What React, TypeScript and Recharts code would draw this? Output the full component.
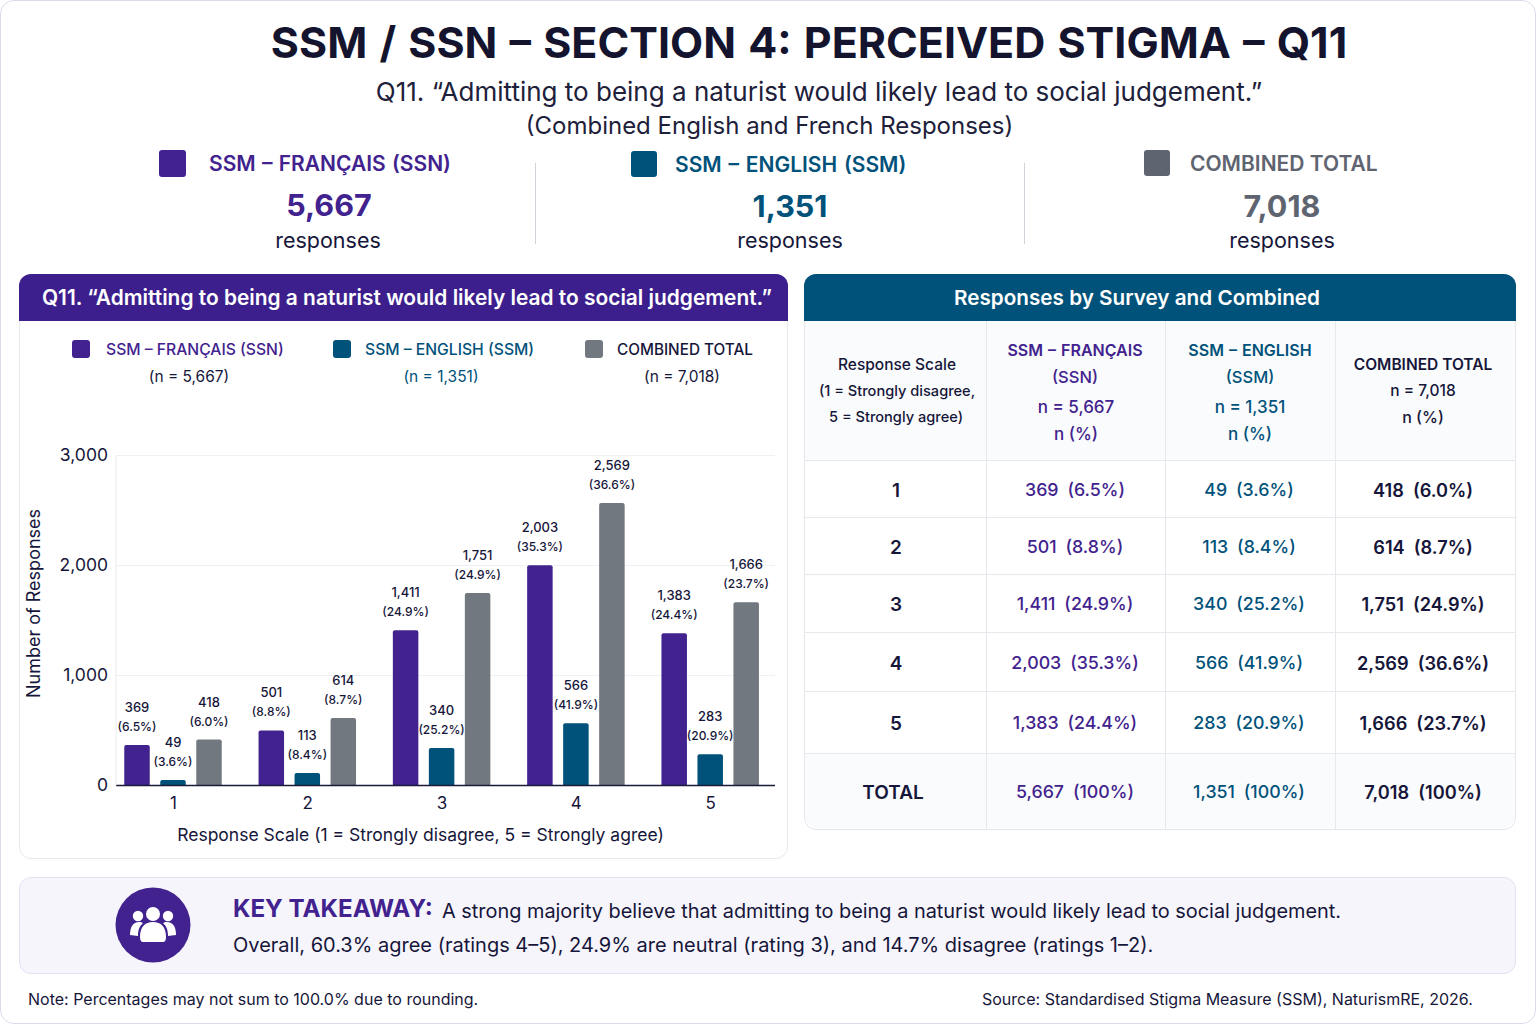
import React from "react";
import { BarChart, Bar, XAxis, YAxis, CartesianGrid, LabelList } from "recharts";

const scale = ["1", "2", "3", "4", "5"];
const francais = [369, 501, 1411, 2003, 1383];
const english = [49, 113, 340, 566, 283];
const combined = [418, 614, 1751, 2569, 1666];
const francaisPct = ["6.5", "8.8", "24.9", "35.3", "24.4"];
const englishPct = ["3.6", "8.4", "25.2", "41.9", "20.9"];
const combinedPct = ["6.0", "8.7", "24.9", "36.6", "23.7"];
const yTicks = [0, 1000, 2000, 3000];

const PURPLE = "#41228e";
const TEAL = "#01527a";
const GREY = "#72787f";
const INK = "#16163a";

const data = scale.map((s, i) => ({
  scale: s,
  francais: francais[i],
  english: english[i],
  combined: combined[i],
}));

const fmt = (n: number) => n.toLocaleString("en-US");

function T({ x, y, size, weight = 400, color = INK, align = "center", ws = 0, children }: any) {
  const tx = align === "center" ? "-50%" : "0";
  return (
    <div
      style={{
        position: "absolute",
        left: x,
        top: y,
        fontSize: size,
        fontWeight: weight,
        color,
        wordSpacing: ws,
        whiteSpace: "nowrap",
        lineHeight: 1,
        transform: `translate(${tx}, -50%)`,
      }}
    >
      {children}
    </div>
  );
}

function Sq({ x, y, s, color }: any) {
  return <div style={{ position: "absolute", left: x, top: y, width: s, height: s, background: color, borderRadius: 3 }} />;
}

function barLabel(pcts: string[], values: number[]) {
  return (props: any) => {
    const { x, y, width, index } = props;
    const cx = x + width / 2;
    return (
      <g textAnchor="middle" fill={INK}>
        <text x={cx} y={y - 33} fontSize={13} fontWeight={500}>{fmt(values[index])}</text>
        <text x={cx} y={y - 14} fontSize={12} fontWeight={500}>({pcts[index]}%)</text>
      </g>
    );
  };
}

const colX = [805, 986, 1165, 1335, 1515];
const rowY = [460, 517, 574, 632, 691, 753, 829];
const rowLabels = [...scale, "TOTAL"];

function cell(value: number, pct: string) {
  return `${fmt(value)}\u2002(${pct}%)`;
}

function TablePanel() {
  const totals = [5667, 1351, 7018];
  return (
    <>
      <div style={{ position: "absolute", left: 804, top: 274, width: 712, height: 556, boxSizing: "border-box", border: "1px solid #e4e6ec", borderRadius: 12, background: "#fff" }} />
      <div style={{ position: "absolute", left: 805, top: 321, width: 710, height: 139, background: "#fafbfc" }} />
      <div style={{ position: "absolute", left: 805, top: 753, width: 710, height: 75, background: "#fafbfc", borderRadius: "0 0 12px 12px" }} />
      <div style={{ position: "absolute", left: 804, top: 274, width: 712, height: 47, background: TEAL, borderRadius: "12px 12px 0 0" }} />
      <T x={1137} y={298} size={20.7} weight={600} color="#fff">Responses by Survey and Combined</T>
      {colX.slice(1, 4).map((x) => (
        <div key={x} style={{ position: "absolute", left: x, top: 321, width: 1, height: 508, background: "#e6e8ed" }} />
      ))}
      {rowY.slice(0, 6).map((y) => (
        <div key={y} style={{ position: "absolute", left: 805, top: y, width: 710, height: 1, background: "#e6e8ed" }} />
      ))}
      <T x={897} y={365} size={15.5} weight={500}>Response Scale</T>
      <T x={897} y={391} size={14.6} weight={500}>(1 = Strongly disagree,</T>
      <T x={896} y={417} size={14.6} weight={500}>5 = Strongly agree)</T>
      <T x={1075} y={350} size={16} weight={600} color={PURPLE} ws={1}>SSM – FRANÇAIS</T>
      <T x={1075} y={377} size={16.5} weight={500} color={PURPLE}>(SSN)</T>
      <T x={1076} y={407} size={17} weight={500} color={PURPLE}>n = 5,667</T>
      <T x={1076} y={434} size={17} weight={500} color={PURPLE}>n (%)</T>
      <T x={1250} y={350} size={16} weight={600} color={TEAL} ws={1}>SSM – ENGLISH</T>
      <T x={1250} y={377} size={16.5} weight={500} color={TEAL}>(SSM)</T>
      <T x={1250} y={407} size={17} weight={500} color={TEAL}>n = 1,351</T>
      <T x={1250} y={434} size={17} weight={500} color={TEAL}>n (%)</T>
      <T x={1423} y={365} size={15.5} weight={600}>COMBINED TOTAL</T>
      <T x={1423} y={391} size={15.5} weight={500}>n = 7,018</T>
      <T x={1423} y={417} size={16} weight={500}>n (%)</T>
      {rowLabels.map((label, i) => {
        const y = (rowY[i] + rowY[i + 1]) / 2 + 1;
        const isTotal = i === 5;
        return (
          <React.Fragment key={label}>
            <T x={isTotal ? 893 : 896} y={y} size={19} weight={600}>{label}</T>
            <T x={1075} y={y} size={17.8} weight={500} color={PURPLE}>
              {isTotal ? `${fmt(totals[0])}\u2002(100%)` : cell(francais[i], francaisPct[i])}
            </T>
            <T x={1249} y={y} size={17.8} weight={500} color={TEAL}>
              {isTotal ? `${fmt(totals[1])}\u2002(100%)` : cell(english[i], englishPct[i])}
            </T>
            <T x={1423} y={y} size={18.2} weight={600}>
              {isTotal ? `${fmt(totals[2])}\u2002(100%)` : cell(combined[i], combinedPct[i])}
            </T>
          </React.Fragment>
        );
      })}
    </>
  );
}

function PeopleIcon() {
  return (
    <svg style={{ position: "absolute", left: 115, top: 887 }} width={76} height={76} viewBox="0 0 76 76">
      <circle cx={38} cy={38} r={37.5} fill={PURPLE} />
      <g fill="#fff">
        <circle cx={23} cy={29} r={5.2} />
        <circle cx={53} cy={29} r={5.2} />
        <path d="M15 48c0-8 3-13 9-13 2 0 3 .5 4 1-3 3-5 6-5 13z" />
        <path d="M61 48c0-8-3-13-9-13-2 0-3 .5-4 1 3 3 5 6 5 13z" />
        <circle cx={38} cy={27} r={7} />
        <path d="M25 50c0-10 5-15 13-15s13 5 13 15c0 3-1 5-3 5H28c-2 0-3-2-3-5z" />
      </g>
    </svg>
  );
}

export default function App() {
  return (
    <div
      style={{
        position: "absolute",
        left: 0,
        top: 0,
        width: 1536,
        height: 1024,
        overflow: "hidden",
        boxSizing: "border-box",
        background: "#fff",
        border: "1px solid #d9dcea",
        borderRadius: 14,
        fontFamily: "Inter, sans-serif",
        color: INK,
      }}
    >
      <div style={{ position: "absolute", left: -1, top: -1 }}>
        <T x={809} y={42} size={43} weight={700} color="#14142e" ws={2}>SSM / SSN – SECTION 4: PERCEIVED STIGMA – Q11</T>
        <T x={819} y={92} size={26} color="#20203a">Q11. “Admitting to being a naturist would likely lead to social judgement.”</T>
        <T x={769.5} y={126} size={24} color="#20203a">(Combined English and French Responses)</T>

        <Sq x={159} y={150} s={27} color={PURPLE} />
        <T x={209} y={163} size={21} weight={600} color={PURPLE} align="left" ws={1}>SSM – FRANÇAIS (SSN)</T>
        <T x={329} y={205} size={30.5} weight={700} color={PURPLE}>5,667</T>
        <T x={328} y={241} size={21.5}>responses</T>
        <div style={{ position: "absolute", left: 535, top: 163, width: 1, height: 81, background: "#cfd2d8" }} />
        <Sq x={631} y={151} s={26} color={TEAL} />
        <T x={675} y={164} size={21} weight={600} color={TEAL} align="left" ws={1.5}>SSM – ENGLISH (SSM)</T>
        <T x={790} y={206} size={30.5} weight={700} color={TEAL}>1,351</T>
        <T x={790} y={241} size={21.5}>responses</T>
        <div style={{ position: "absolute", left: 1024, top: 163, width: 1, height: 81, background: "#cfd2d8" }} />
        <Sq x={1144} y={150} s={26} color="#5f6570" />
        <T x={1190} y={163} size={21} weight={600} color="#5f6570" align="left">COMBINED TOTAL</T>
        <T x={1282} y={206} size={30.5} weight={700} color="#5f6570">7,018</T>
        <T x={1282} y={241} size={21.5}>responses</T>

        {/* chart panel */}
        <div style={{ position: "absolute", left: 19, top: 274, width: 769, height: 585, boxSizing: "border-box", border: "1px solid #e6e8ee", borderRadius: 12, background: "#fff" }} />
        <div style={{ position: "absolute", left: 19, top: 274, width: 769, height: 47, background: "#3c1f8c", borderRadius: "12px 12px 0 0" }} />
        <T x={407} y={298} size={20.9} weight={600} color="#fff">Q11. “Admitting to being a naturist would likely lead to social judgement.”</T>

        <Sq x={72} y={340} s={18} color={PURPLE} />
        <T x={106} y={350} size={15.7} weight={500} color={PURPLE} align="left">SSM – FRANÇAIS (SSN)</T>
        <T x={189} y={377} size={15.5}>(n = 5,667)</T>
        <Sq x={333} y={340} s={18} color={TEAL} />
        <T x={365} y={350} size={15.7} weight={500} color={TEAL} align="left">SSM – ENGLISH (SSM)</T>
        <T x={441} y={377} size={15.5} color={TEAL}>(n = 1,351)</T>
        <Sq x={585} y={340} s={18} color={GREY} />
        <T x={617} y={350} size={15.3} weight={500} align="left">COMBINED TOTAL</T>
        <T x={682} y={377} size={15.5}>(n = 7,018)</T>

        <div style={{ position: "absolute", left: 19, top: 400 }}>
          <BarChart
            width={769}
            height={459}
            data={data}
            margin={{ top: 55.5, right: 13, bottom: 43.5, left: 37 }}
            barSize={25.5}
            barGap={10.5}
          >
            <CartesianGrid vertical={false} stroke="#eef0f3" />
            <XAxis
              dataKey="scale"
              stroke="#1a1a3a"
              strokeWidth={1.5}
              tickLine={false}
              padding={{ left: -9.75, right: -2.75 }}
              tick={{ fill: INK, fontSize: 17 }}
              tickMargin={5}
              label={{ value: "Response Scale (1 = Strongly disagree, 5 = Strongly agree)", position: "insideBottom", offset: -25, dx: -25, fill: INK, fontSize: 17.5 }}
            />
            <YAxis
              width={60}
              domain={[0, 3000]}
              ticks={yTicks}
              tickFormatter={fmt}
              stroke="#e8eaee"
              tickLine={false}
              tick={{ fill: INK, fontSize: 17.5, dy: -1 }}
              tickMargin={2}
              label={{ value: "Number of Responses", angle: -90, position: "insideLeft", offset: -22, dy: -17, fill: INK, fontSize: 18, style: { textAnchor: "middle" } }}
            />
            <Bar dataKey="francais" fill={PURPLE} radius={[2, 2, 0, 0]} isAnimationActive={false}>
              <LabelList content={barLabel(francaisPct, francais)} />
            </Bar>
            <Bar dataKey="english" fill={TEAL} radius={[2, 2, 0, 0]} isAnimationActive={false}>
              <LabelList content={barLabel(englishPct, english)} />
            </Bar>
            <Bar dataKey="combined" fill={GREY} radius={[2, 2, 0, 0]} isAnimationActive={false}>
              <LabelList content={barLabel(combinedPct, combined)} />
            </Bar>
          </BarChart>
        </div>

        <TablePanel />

        {/* takeaway */}
        <div style={{ position: "absolute", left: 19, top: 877, width: 1497, height: 97, boxSizing: "border-box", background: "#f6f5fc", border: "1px solid #e3e1f3", borderRadius: 12 }} />
        <PeopleIcon />
        <T x={233} y={909} size={24.2} weight={700} color={PURPLE} align="left">KEY TAKEAWAY:</T>
        <T x={442} y={912} size={19.9} align="left">A strong majority believe that admitting to being a naturist would likely lead to social judgement.</T>
        <T x={233} y={945} size={20} align="left">Overall, 60.3% agree (ratings 4–5), 24.9% are neutral (rating 3), and 14.7% disagree (ratings 1–2).</T>
        <T x={28} y={999} size={16} align="left">Note: Percentages may not sum to 100.0% due to rounding.</T>
        <T x={982} y={999} size={16} align="left">Source: Standardised Stigma Measure (SSM), NaturismRE, 2026.</T>
      </div>
    </div>
  );
}
